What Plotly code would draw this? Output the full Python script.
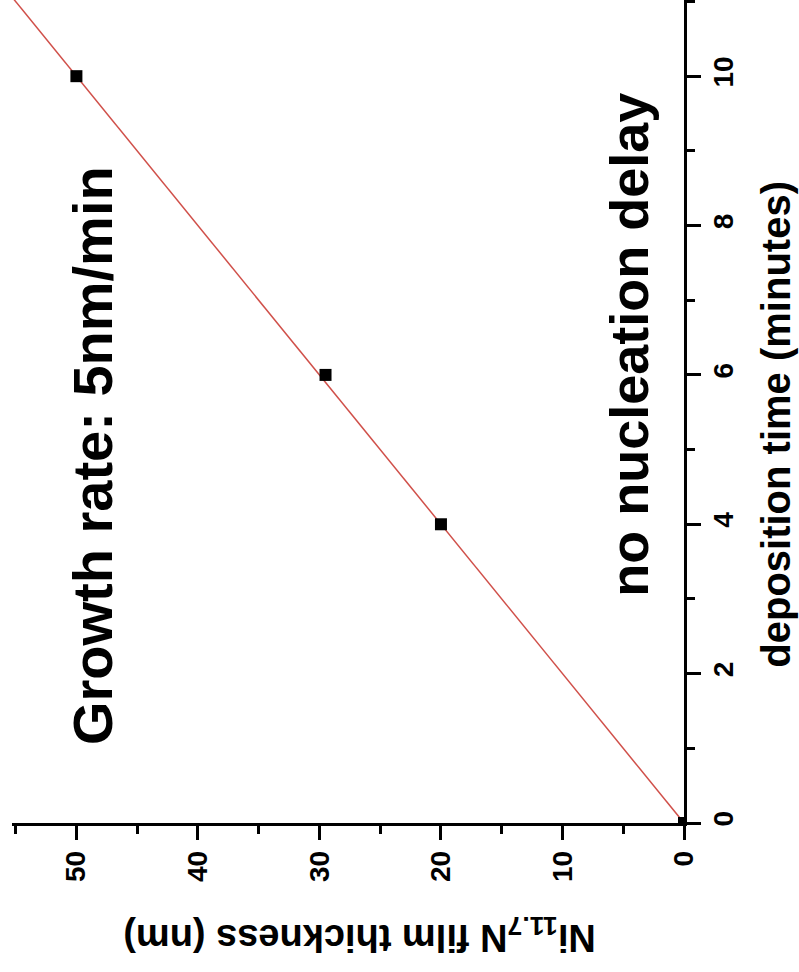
import plotly.graph_objects as go

# Data (deposition time in minutes, film thickness in nm)
time_min = [0, 4, 6, 10]
thickness_nm = [0, 20, 29.5, 50]

# Linear fit line end points (5 nm/min)
fit_time = [0, 11.3]
fit_thickness = [0, 56.5]

x_ticks = [0, 10, 20, 30, 40, 50]
y_ticks = [0, 2, 4, 6, 8, 10]

FONT = "Liberation Sans, Arial, sans-serif"

fig = go.Figure()
fig.add_trace(go.Scatter(
    x=fit_thickness, y=fit_time, mode="lines",
    line=dict(color="#d0504a", width=1.5), showlegend=False, hoverinfo="skip"))
fig.add_trace(go.Scatter(
    x=thickness_nm, y=time_min, mode="markers",
    marker=dict(symbol="square", size=12, color="black"), showlegend=False))

axis_common = dict(
    showline=True, linecolor="black", linewidth=2.5,
    showgrid=False, zeroline=False,
    ticks="outside", ticklen=14, tickwidth=2.5, tickcolor="black",
    tickangle=-90,
    tickfont=dict(family=FONT, size=28, color="black", weight="bold"),
)

fig.update_layout(
    width=799, height=972,
    margin=dict(l=12, r=115, t=0, b=149),
    plot_bgcolor="white", paper_bgcolor="white",
    xaxis=dict(range=[55.3, 0], tickvals=x_ticks, ticktext=[str(v) for v in x_ticks],
               minor=dict(dtick=5, tick0=0, ticks="outside", ticklen=8, tickwidth=2.5, tickcolor="black"),
               ticklabelstandoff=0, **axis_common),
    yaxis=dict(range=[0, 11.02], side="right", tickvals=y_ticks, ticktext=[str(v) for v in y_ticks],
               minor=dict(dtick=1, tick0=0, ticks="outside", ticklen=8, tickwidth=2.5, tickcolor="black"),
               ticklabelstandoff=-1, **axis_common),
)

fig.add_annotation(text="Growth rate: 5nm/min", xref="paper", yref="paper",
                   x=0.119, y=0.447, textangle=-90, showarrow=False,
                   xanchor="center", yanchor="middle",
                   font=dict(family=FONT, size=56, color="black", weight="bold"))
fig.add_annotation(text="no nucleation delay", xref="paper", yref="paper",
                   x=0.918, y=0.581, textangle=-90, showarrow=False,
                   xanchor="center", yanchor="middle",
                   font=dict(family=FONT, size=54, color="black", weight="bold"))
fig.add_annotation(text="Ni<sub>11.7</sub>N film thickness (nm)", xref="paper", yref="paper",
                   x=0.517, y=-0.136, textangle=180, showarrow=False,
                   xanchor="center", yanchor="middle",
                   font=dict(family=FONT, size=38, color="black", weight="bold"))
fig.add_annotation(text="deposition time (minutes)", xref="paper", yref="paper",
                   x=1.137, y=0.484, textangle=-90, showarrow=False,
                   xanchor="center", yanchor="middle",
                   font=dict(family=FONT, size=40, color="black", weight="bold"))

fig.write_html("out.html", config={"displayModeBar": False},
               post_script="document.body.style.margin='0px';")
